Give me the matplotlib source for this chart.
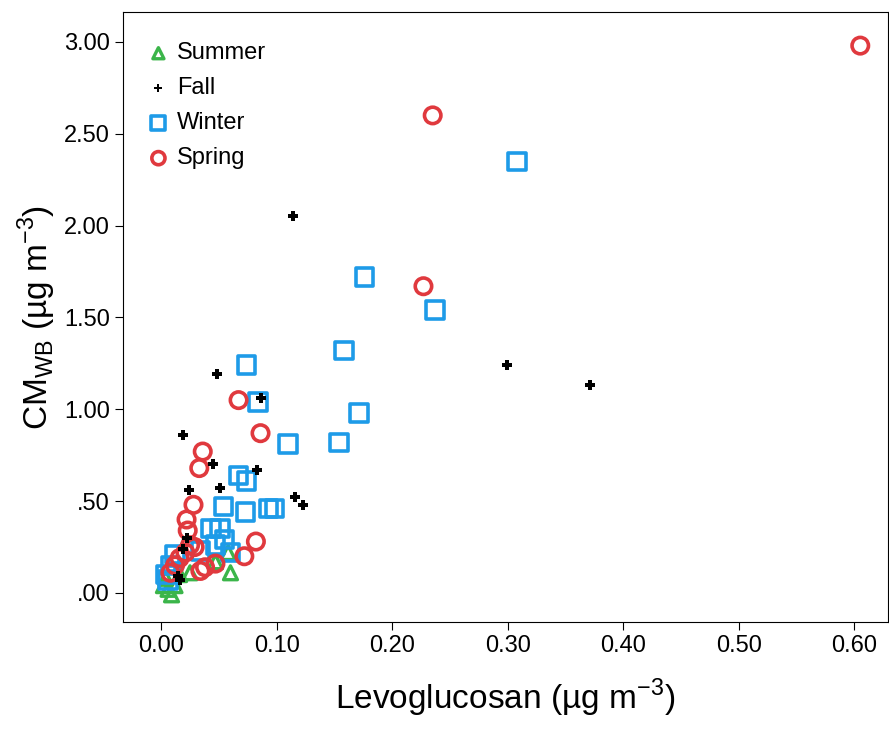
import matplotlib
matplotlib.use("Agg")
import matplotlib.pyplot as plt
from matplotlib.ticker import FuncFormatter

plt.rcParams["font.family"] = ["Liberation Sans", "DejaVu Sans"]
plt.rcParams["mathtext.fontset"] = "custom"
plt.rcParams["mathtext.rm"] = "Liberation Sans"

summer_x = [0.060, 0.058, 0.047, 0.002, 0.006, 0.009, 0.004, 0.012, 0.016, 0.025]
summer_y = [0.11, 0.22, 0.17, 0.04, 0.02, -0.01, 0.08, 0.04, 0.10, 0.11]

fall_x = [0.114, 0.299, 0.371, 0.048, 0.086, 0.019, 0.045, 0.083, 0.051, 0.024,
          0.116, 0.123, 0.022, 0.019, 0.016, 0.015]
fall_y = [2.05, 1.24, 1.13, 1.19, 1.06, 0.86, 0.70, 0.67, 0.57, 0.56,
          0.52, 0.48, 0.30, 0.24, 0.07, 0.09]

winter_x = [0.308, 0.176, 0.237, 0.158, 0.074, 0.084, 0.171, 0.110, 0.154, 0.067,
            0.074, 0.054, 0.073, 0.093, 0.098, 0.043, 0.051, 0.055, 0.047, 0.060,
            0.012, 0.008, 0.004, 0.006, 0.034]
winter_y = [2.35, 1.72, 1.54, 1.32, 1.24, 1.04, 0.98, 0.81, 0.82, 0.64,
            0.61, 0.47, 0.44, 0.46, 0.46, 0.35, 0.35, 0.29, 0.26, 0.22,
            0.21, 0.15, 0.10, 0.07, 0.23]

spring_x = [0.605, 0.235, 0.227, 0.067, 0.086, 0.036, 0.033, 0.028, 0.022, 0.023,
            0.082, 0.072, 0.047, 0.008, 0.012, 0.016, 0.021, 0.029, 0.034, 0.038, 0.025]
spring_y = [2.98, 2.60, 1.67, 1.05, 0.87, 0.77, 0.68, 0.48, 0.40, 0.34,
            0.28, 0.20, 0.16, 0.11, 0.15, 0.19, 0.22, 0.25, 0.12, 0.14, 0.26]

fig = plt.figure(figsize=(8.89, 7.31), dpi=100)
ax = fig.add_axes([123 / 889, 1 - 622 / 731, (888 - 123) / 889, (622 - 12) / 731])

ax.scatter(summer_x, summer_y, marker="^", s=100, facecolors="none", edgecolors="#3bb54a", linewidths=2.4, label="Summer", zorder=3)
ax.scatter(fall_x, fall_y, marker="P", s=55, color="black", linewidths=0, label="Fall", zorder=4)
ax.scatter(winter_x, winter_y, marker="s", s=160, facecolors="none", edgecolors="#1e9be8", linewidths=2.6, label="Winter", zorder=3)
ax.scatter(spring_x, spring_y, marker="o", s=140, facecolors="none", edgecolors="#e0393e", linewidths=2.6, label="Spring", zorder=3)

ax.set_xlim(-0.033, 0.629)
ax.set_ylim(-0.158, 3.163)
ax.set_xticks([0.0, 0.1, 0.2, 0.3, 0.4, 0.5, 0.6])
ax.set_yticks([0.0, 0.5, 1.0, 1.5, 2.0, 2.5, 3.0])
ax.xaxis.set_major_formatter(FuncFormatter(lambda v, p: f"{v:.2f}"))
ax.yaxis.set_major_formatter(FuncFormatter(lambda v, p: f"{v:.2f}".lstrip("0") if v < 1 else f"{v:.2f}"))
ax.tick_params(labelsize=17, length=6)
ax.set_xlabel("Levoglucosan (µg m$^{\\mathrm{-3}}$)", fontsize=24, labelpad=14)
ax.set_ylabel("CM$_{\\mathrm{WB}}$ (µg m$^{\\mathrm{-3}}$)", fontsize=24)

ax.legend(loc="upper left", bbox_to_anchor=(0.0, 0.985), frameon=False, fontsize=17,
          handletextpad=0.2, borderaxespad=0.5, labelspacing=0.55, handlelength=1.2,
          markerscale=0.8)

fig.savefig("out.png", dpi=100)
